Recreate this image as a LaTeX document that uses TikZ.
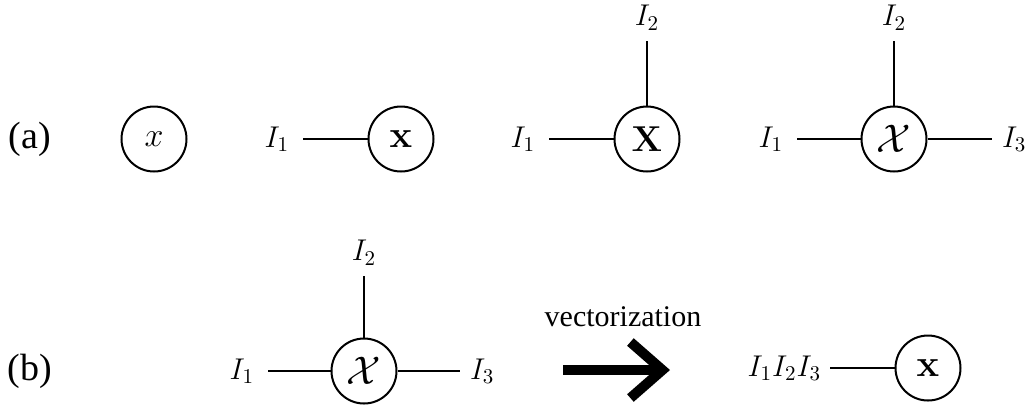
\RequirePackage{fix-cm}
\documentclass[tikz,border=0pt]{standalone}
\usepackage[no-math]{fontspec}
\setmainfont{Liberation Serif}
\usetikzlibrary{arrows.meta}
\tikzset{
  tensor/.style={draw,circle,line width=1pt,minimum size=32.5pt,inner sep=0pt,font=\fontsize{18}{21}\selectfont},
  idx/.style={inner sep=0pt,outer sep=7pt,font=\fontsize{15}{18}\selectfont},
  leg/.style={line width=0.9pt}
}

\begin{document}
\begin{tikzpicture}[x=0.5pt,y=-0.5pt]
  \useasboundingbox (0,0) rectangle (1034,409);
  \node[font=\fontsize{19}{22}\selectfont] (rowa) at (30,139) {(a)};
  \node[tensor,font=\fontsize{17}{20}\selectfont] (s) at (154,139) {$x$};
  \node[tensor,font=\fontsize{19}{22}\selectfont] (v) at (401,139) {$\mathbf{x}$};
  \node[idx,anchor=east] (vi) at (303,139) {$I_1$};
  \draw[leg] (vi) -- (v);
  \node[tensor] (m) at (647,139) {$\mathbf{X}$};
  \node[idx,anchor=east] (mi) at (549,139) {$I_1$};
  \node[idx,anchor=south,outer sep=5.5pt] (mj) at (647,41) {$I_2$};
  \draw[leg] (mi) -- (m) -- (mj);
  \node[tensor,font=\fontsize{20}{24}\selectfont] (t) at (894,139) {$\mathcal{X}$};
  \node[idx,anchor=east] (ti) at (797,139) {$I_1$};
  \node[idx,anchor=south,outer sep=5.5pt] (tj) at (894,41) {$I_2$};
  \node[idx,anchor=west,outer sep=5pt] (tk) at (992,139) {$I_3$};
  \draw[leg] (ti) -- (t) -- (tk);
  \draw[leg] (t) -- (tj);

  \node[font=\fontsize{19}{22}\selectfont] (rowb) at (30,371) {(b)};
  \node[tensor,font=\fontsize{20}{24}\selectfont] (bt) at (364,371) {$\mathcal{X}$};
  \node[idx,anchor=east] (bti) at (268,371) {$I_1$};
  \node[idx,anchor=south,outer sep=5.5pt] (btj) at (364,276) {$I_2$};
  \node[idx,anchor=west,outer sep=5pt] (btk) at (460,371) {$I_3$};
  \draw[leg] (bti) -- (bt) -- (btk);
  \draw[leg] (bt) -- (btj);
  \coordinate (arrs) at (563,370);
  \coordinate (arre) at (670,370);
  \draw[line width=5pt,-{Straight Barb[length=16pt,width=28pt,sharp]}] (arrs) -- (arre);
  \node[font=\fontsize{15}{18}\selectfont,anchor=base] (vec) at (623,326) {vectorization};
  \node[tensor,font=\fontsize{19}{22}\selectfont] (bv) at (928,368) {$\mathbf{x}$};
  \node[idx,anchor=east,outer sep=4.5pt] (bvi) at (830,368) {$I_1I_2I_3$};
  \draw[leg] (bvi) -- (bv);
\end{tikzpicture}
\end{document}
